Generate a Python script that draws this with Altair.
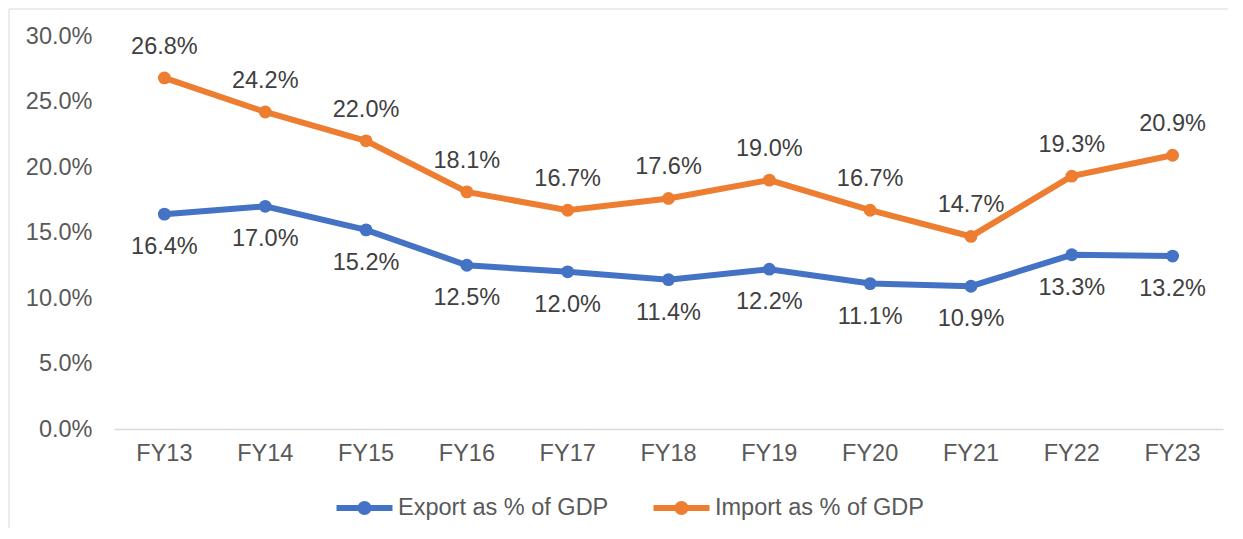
import altair as alt
import pandas as pd

years = ["FY13", "FY14", "FY15", "FY16", "FY17", "FY18", "FY19", "FY20", "FY21", "FY22", "FY23"]
export_pct = [16.4, 17.0, 15.2, 12.5, 12.0, 11.4, 12.2, 11.1, 10.9, 13.3, 13.2]
import_pct = [26.8, 24.2, 22.0, 18.1, 16.7, 17.6, 19.0, 16.7, 14.7, 19.3, 20.9]
series_names = ["Export as % of GDP", "Import as % of GDP"]
series_colors = ["#4472C4", "#ED7D31"]
y_ticks = [0, 5, 10, 15, 20, 25, 30]

rows = []
for name, vals in zip(series_names, [export_pct, import_pct]):
    for yr, v in zip(years, vals):
        rows.append({"year": yr, "value": v, "series": name})
df = pd.DataFrame(rows)

FONT = "Liberation Sans"
FS = 23.5
W, H = 1109, 393

x_enc = alt.X("year:N", sort=years, title=None,
              scale=alt.Scale(type="band", paddingInner=0, paddingOuter=0),
              axis=alt.Axis(labelAngle=0, ticks=False, domainColor="#D9D9D9", domainWidth=1.5,
                            labelPadding=12, labelFontSize=FS, labelColor="#595959",
                            labelFont=FONT, grid=False))
y_enc = alt.Y("value:Q", title=None,
              scale=alt.Scale(domain=[0, 30], nice=False, zero=True),
              axis=alt.Axis(values=y_ticks, labelExpr="format(datum.value,'.1f')+'%'",
                            grid=False, domain=False, ticks=False, labelPadding=22,
                            labelFontSize=FS, labelColor="#595959", labelFont=FONT))

legend_path = "M-2.8,0L2.8,0M-0.4,0A0.4,0.4,0,1,0,0.4,0A0.4,0.4,0,1,0,-0.4,0Z"

base = alt.Chart(df)

lines = base.mark_line(strokeWidth=6, point=alt.OverlayMarkDef(filled=True, size=165)).encode(
    x=x_enc,
    y=y_enc,
    color=alt.Color("series:N",
                    scale=alt.Scale(domain=series_names, range=series_colors),
                    legend=alt.Legend(orient="none", legendX=237.5, legendY=459, direction="horizontal",
                                      title=None, symbolType=legend_path, symbolSize=400,
                                      symbolStrokeWidth=6, labelFontSize=FS, labelColor="#595959",
                                      labelFont=FONT, labelOffset=20.5, columnPadding=33, padding=0,
                                      labelLimit=400)),
)

text_style = dict(font=FONT, fontSize=FS, color="#404040", align="center", baseline="middle")

labels_imp = base.transform_filter(alt.datum.series == series_names[1]).transform_calculate(
    lab="format(datum.value,'.1f')+'%'"
).mark_text(dy=-31, **text_style).encode(
    x=alt.X("year:N", sort=years), y="value:Q", text="lab:N"
)

labels_exp = base.transform_filter(alt.datum.series == series_names[0]).transform_calculate(
    lab="format(datum.value,'.1f')+'%'"
).mark_text(dy=33, **text_style).encode(
    x=alt.X("year:N", sort=years), y="value:Q", text="lab:N"
)

frame_df = pd.DataFrame({"k": [0]})
frame_left = alt.Chart(frame_df).mark_rule(color="#D9D9D9", strokeWidth=1).encode(
    x=alt.value(-105), y=alt.value(-27), y2=alt.value(492))
frame_top = alt.Chart(frame_df).mark_rule(color="#D9D9D9", strokeWidth=1).encode(
    x=alt.value(-105), x2=alt.value(1114), y=alt.value(-27))

chart = alt.layer(frame_left, frame_top, lines, labels_imp, labels_exp).properties(
    width=W, height=H, padding=0, background="white"
).configure_view(stroke=None)

chart.save("out.html", embed_options={"renderer": "svg", "actions": False})
